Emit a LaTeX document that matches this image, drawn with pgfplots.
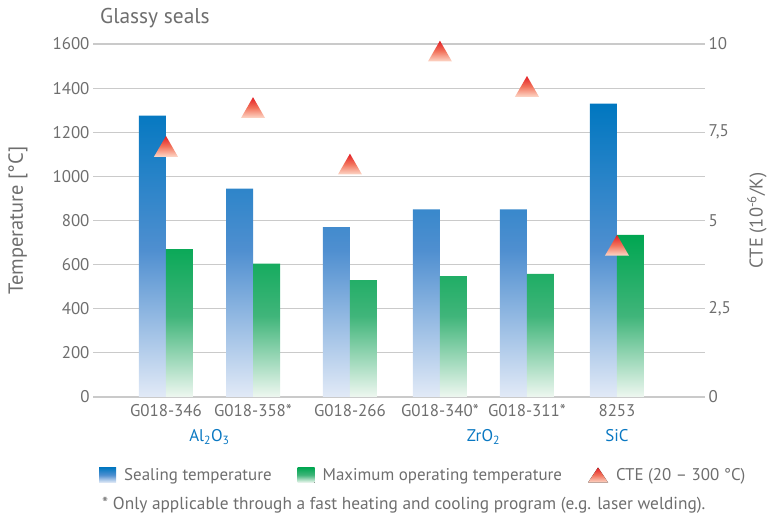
\documentclass[border=0pt]{standalone}
\usepackage{fontspec}
\setmainfont{PT Sans}
\usepackage{pgfplots}
\usepackage{pgfplotstable}
\pgfplotsset{compat=1.18}
\usetikzlibrary{shapes.geometric}
\definecolor{txtgray}{HTML}{6E6E6E}
\definecolor{gridgray}{HTML}{CACACA}
\definecolor{blueT}{HTML}{0077C0}
\definecolor{blueM}{HTML}{4F8FD0}
\definecolor{blueB}{HTML}{E2EAF7}
\definecolor{greenT}{HTML}{00A651}
\definecolor{greenM}{HTML}{40B57A}
\definecolor{greenB}{HTML}{EEF7F0}
\definecolor{redT}{HTML}{E31E24}
\definecolor{redM}{HTML}{F2735C}
\definecolor{redB}{HTML}{FDD8C8}
\definecolor{subblue}{HTML}{0A78C2}

\pgfplotstableread{
x     seal  maxop cte
0.000 1275  670   7.1
0.967 945   605   8.2
2.044 770   530   6.6
3.044 850   548   9.8
4.011 850   558   8.8
5.011 1330  735   4.3
}\datatable

\begin{document}
\begin{tikzpicture}
\useasboundingbox (0,0) rectangle (769bp,515bp);
\begin{axis}[
  at={(93bp,118bp)}, anchor=south west,
  scale only axis, width=612bp, height=353bp,
  xmin=-0.811, xmax=5.989, ymin=0, ymax=1600,
  axis x line*=bottom, axis y line*=left,
  axis line style={draw=none},
  major tick length=0pt,
  ytick={0,200,...,1600},
  ymajorgrids, grid style={gridgray, line width=1.2bp},
  xtick={0,0.967,2.044,3.044,4.011,5.011},
  xticklabels={G018-346,G018-358*,G018-266,G018-340*,G018-311*,8253},
  extra x ticks={0.4835,3.5275,5.011},
  extra x tick labels={Al\textsubscript{2}O\textsubscript{3},ZrO\textsubscript{2},SiC},
  x tick label style={yshift=-4bp},
  extra x tick style={tick label style={text=subblue, yshift=-25bp}},
  tick label style={font=\fontsize{17}{19}\selectfont, text=txtgray},
  /pgf/number format/assume math mode=true,
  /pgf/number format/1000 sep={},
  ylabel={Temperature [°C]},
  ylabel style={at={(axis description cs:-0.1225,0.5)}, anchor=center, font=\fontsize{20.5}{23}\selectfont, text=txtgray},
  ybar, bar width=0.3, bar shift=0pt,
  clip=false,
]
\addplot[draw=none, top color=blueT, bottom color=blueB, middle color=blueM] table[x expr=\thisrow{x}-0.15, y=seal] {\datatable};
\addplot[draw=none, top color=greenT, bottom color=greenB, middle color=greenM] table[x expr=\thisrow{x}+0.15, y=maxop] {\datatable};
\end{axis}
\begin{axis}[
  at={(93bp,118bp)}, anchor=south west,
  scale only axis, width=612bp, height=353bp,
  xmin=-0.811, xmax=5.989, ymin=0, ymax=10,
  axis y line*=right, axis x line=none,
  axis line style={draw=none}, major tick length=0pt,
  ytick={0,2.5,5,7.5,10}, yticklabels={0,{2,5},5,{7,5},10},
  tick label style={font=\fontsize{17}{19}\selectfont, text=txtgray},
  ylabel={CTE (10\textsuperscript{-6}/K)},
  ylabel style={at={(axis description cs:1.0850,0.5)}, anchor=center, font=\fontsize{18.5}{21}\selectfont, text=txtgray},
  legend columns=3,
  legend cell align=left,
  legend style={at={(axis description cs:0.0098,-0.221)}, anchor=west, draw=none, fill=none, inner sep=0pt,
    font=\fontsize{17}{19}\selectfont, text=txtgray,
    /tikz/every odd column/.append style={column sep=6bp},
    /tikz/every even column/.append style={column sep=24bp}},
  clip=false,
]
\addplot[only marks, mark=none, forget plot,
  nodes near coords={},
  every node near coord/.append style={regular polygon, regular polygon sides=3, minimum size=27.7bp, inner sep=0pt,
    top color=redT, bottom color=redB, middle color=redM, draw=none, anchor=center, yshift=-3.5bp}]
  table[x=x, y=cte] {\datatable};
\addlegendimage{legend image code/.code={\fill[top color=blueT, bottom color=blueB, middle color=blueM, draw=none] (0bp,-7.5bp) rectangle (17bp,7.5bp);}}
\addlegendentry{Sealing temperature}
\addlegendimage{legend image code/.code={\fill[top color=greenT, bottom color=greenB, middle color=greenM, draw=none] (0bp,-7.5bp) rectangle (17bp,7.5bp);}}
\addlegendentry{Maximum operating temperature}
\addlegendimage{legend image code/.code={\fill[top color=redT, bottom color=redB, middle color=redM, draw=none] (0bp,-7.5bp) -- (20bp,-7.5bp) -- (10bp,7.5bp) -- cycle;}}
\addlegendentry{CTE (20 – 300 °C)}
\end{axis}
\node[anchor=west, inner sep=0pt, font=\fontsize{21.5}{24}\selectfont, text=txtgray] at (100bp,497bp) {Glassy seals};
\node[anchor=west, inner sep=0pt, font=\fontsize{17.4}{19}\selectfont, text=txtgray] at (102bp,10bp) {* Only applicable through a fast heating and cooling program (e.g. laser welding).};
\end{tikzpicture}
\end{document}
